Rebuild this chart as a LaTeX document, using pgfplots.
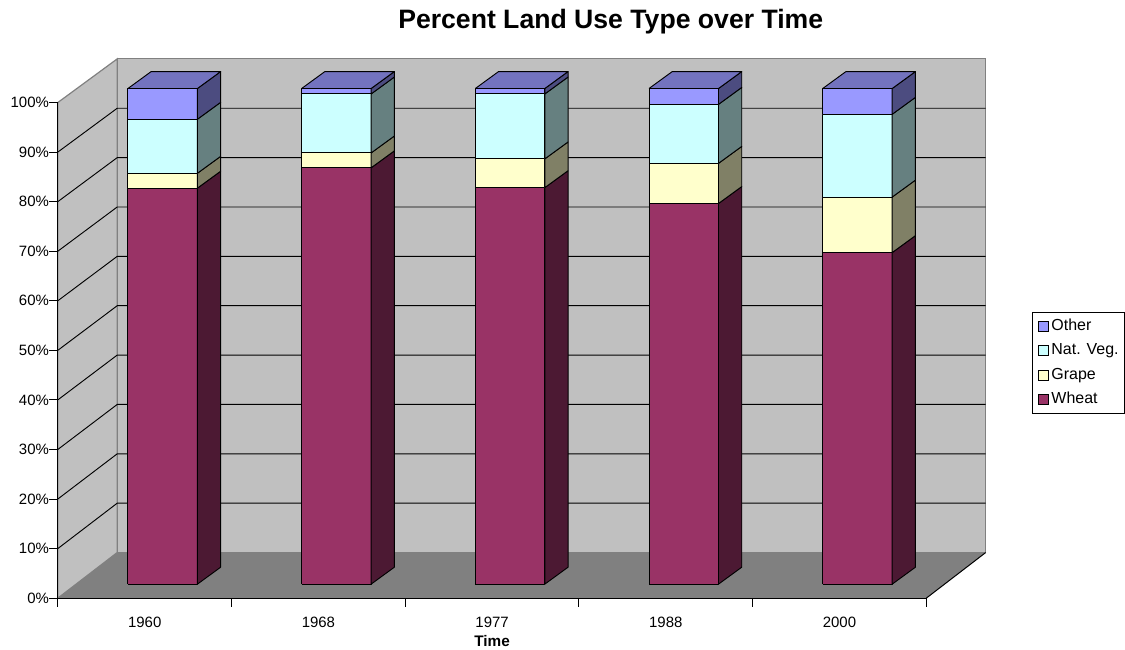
\documentclass[border=0pt]{standalone}
\usepackage{fontspec}
\setmainfont{Liberation Sans}
\usepackage{pgfplots}
\pgfplotsset{compat=1.18}

% series colours: front face / side face (and top of the highest block)
\definecolor{wheatF}{HTML}{993366}
\definecolor{wheatS}{HTML}{4C1933}
\definecolor{grapeF}{HTML}{FFFFCC}
\definecolor{grapeS}{HTML}{808066}
\definecolor{vegF}{HTML}{CCFFFF}
\definecolor{vegS}{HTML}{668080}
\definecolor{otherF}{HTML}{9999FF}
\definecolor{otherS}{HTML}{4C4C80}
\definecolor{otherT}{HTML}{7373BF}
\definecolor{wallC}{HTML}{C0C0C0}
\definecolor{floorC}{HTML}{808080}
\definecolor{edgeC}{HTML}{808080}

\pgfplotsset{
  face/.style={draw=black, line width=0.7pt, line join=round, forget plot},
  gridln/.style={draw=black, line width=0.7pt, forget plot},
}

% one block of a 3-D column: #1 category centre, #2 bottom, #3 top,
% #4 front colour, #5 side colour
\newcommand\seg[5]{%
  \pgfmathsetmacro\xl{#1-0.2+0.1034}%
  \pgfmathsetmacro\xr{#1+0.2+0.1034}%
  \pgfmathsetmacro\xs{#1+0.2+0.2373}%
  \pgfmathsetmacro\ylo{#2+2.82}%
  \pgfmathsetmacro\yhi{#3+2.82}%
  \pgfmathsetmacro\ylob{#2+6.24}%
  \pgfmathsetmacro\yhib{#3+6.24}%
  \addplot[face, fill=#4] coordinates {(\xl,\ylo) (\xr,\ylo) (\xr,\yhi) (\xl,\yhi) (\xl,\ylo)};
  \addplot[face, fill=#5] coordinates {(\xr,\ylo) (\xs,\ylob) (\xs,\yhib) (\xr,\yhi) (\xr,\ylo)};
}
% lid of a column: #1 centre, #2 height
\newcommand\lid[2]{%
  \pgfmathsetmacro\xl{#1-0.2+0.1034}%
  \pgfmathsetmacro\xr{#1+0.2+0.1034}%
  \pgfmathsetmacro\xlb{#1-0.2+0.2373}%
  \pgfmathsetmacro\xs{#1+0.2+0.2373}%
  \pgfmathsetmacro\yhi{#2+2.82}%
  \pgfmathsetmacro\yhib{#2+6.24}%
  \addplot[face, fill=otherT] coordinates {(\xl,\yhi) (\xr,\yhi) (\xs,\yhib) (\xlb,\yhib) (\xl,\yhi)};
}
% full stacked column: #1 centre, #2 Wheat, #3 Grape, #4 Nat. Veg., #5 Other (percent)
\newcommand\landbar[5]{%
  \pgfmathsetmacro\cA{#2}%
  \pgfmathsetmacro\cB{#2+#3}%
  \pgfmathsetmacro\cC{#2+#3+#4}%
  \pgfmathsetmacro\cD{#2+#3+#4+#5}%
  \edef\doseg{\noexpand\seg{#1}{0}{\cA}{wheatF}{wheatS}%
    \noexpand\seg{#1}{\cA}{\cB}{grapeF}{grapeS}%
    \noexpand\seg{#1}{\cB}{\cC}{vegF}{vegS}%
    \noexpand\seg{#1}{\cC}{\cD}{otherF}{otherS}%
    \noexpand\lid{#1}{\cD}}%
  \doseg
}

\begin{document}
\begin{tikzpicture}
\begin{axis}[
  scale only axis, width=652.7pt, height=372.5pt,
  xmin=0, xmax=5, ymin=0, ymax=100,
  clip=false, axis on top,
  axis x line*=bottom, axis y line*=left,
  axis line style={black, line width=0.75pt},
  tick align=outside, major tick length=6.5pt,
  tick style={black, line width=0.75pt},
  xtick={0,1,2,3,4,5}, xticklabels={},
  extra x ticks={0.5,1.5,2.5,3.5,4.5},
  extra x tick labels={1960,1968,1977,1988,2000},
  extra x tick style={major tick length=0pt,
    xticklabel style={anchor=base, inner sep=0pt, yshift=-22pt}},
  ytick={0,10,20,30,40,50,60,70,80,90,100},
  yticklabels={0\%,10\%,20\%,30\%,40\%,50\%,60\%,70\%,80\%,90\%,100\%},
  yticklabel style={anchor=east, inner sep=0pt},
  ticklabel style={font=\fontsize{11.25}{13}\selectfont},
  xlabel={Time},
  xlabel style={at={(axis description cs:0.5,-0.098)}, anchor=base,
    inner sep=0pt, font=\bfseries\fontsize{11.5}{13}\selectfont},
  legend style={at={(axis description cs:1.1214,0.578)}, anchor=north west,
    draw=black, line width=0.6pt, fill=white,
    font=\fontsize{12}{14}\selectfont,
    inner xsep=4.5pt, inner ysep=5pt, row sep=7.6pt,
    nodes={inner sep=0pt, text height=8.6pt, text depth=2.2pt},
    /tikz/every odd column/.append style={column sep=2pt}},
  legend cell align=left,
  legend image code/.code={\draw[#1, line width=0.5pt] (0pt,-3.75pt) rectangle (7.5pt,3.75pt);},
]
% picture extent
\path (axis cs:-0.3332,-10.41) rectangle (axis cs:6.130,120.68);

% walls and floor
\addplot[fill=wallC, draw=edgeC, line width=0.9pt, forget plot]
  coordinates {(0.3418,9.2) (5.3418,9.2) (5.3418,108.8) (0.3418,108.8) (0.3418,9.2)};
\addplot[fill=wallC, draw=edgeC, line width=0.9pt, forget plot]
  coordinates {(0,0) (0.3418,9.2) (0.3418,108.8) (0,100) (0,0)};
\addplot[fill=floorC, draw=none, forget plot]
  coordinates {(0,0) (5,0) (5.3418,9.2) (0.3418,9.2) (0,0)};
\addplot[draw=edgeC, line width=0.9pt, forget plot] coordinates {(0.3418,9.2) (5.3418,9.2)};
\addplot[draw=black, line width=0.75pt, forget plot] coordinates {(5,0) (5.3418,9.2)};

% gridlines on side and back walls
\addplot[gridln] coordinates {(0,10) (0.3418,19.16) (5.3418,19.16)};
\addplot[gridln] coordinates {(0,20) (0.3418,29.12) (5.3418,29.12)};
\addplot[gridln] coordinates {(0,30) (0.3418,39.08) (5.3418,39.08)};
\addplot[gridln] coordinates {(0,40) (0.3418,49.04) (5.3418,49.04)};
\addplot[gridln] coordinates {(0,50) (0.3418,59.00) (5.3418,59.00)};
\addplot[gridln] coordinates {(0,60) (0.3418,68.96) (5.3418,68.96)};
\addplot[gridln] coordinates {(0,70) (0.3418,78.92) (5.3418,78.92)};
\addplot[gridln] coordinates {(0,80) (0.3418,88.88) (5.3418,88.88)};
\addplot[gridln] coordinates {(0,90) (0.3418,98.84) (5.3418,98.84)};

% land use shares (percent): Wheat, Grape, Nat. Veg., Other
\landbar{0.5}{79.9}{3.0}{10.9}{6.2}   % 1960
\landbar{1.5}{84.0}{3.0}{11.9}{1.1}   % 1968
\landbar{2.5}{80.0}{5.8}{13.1}{1.1}   % 1977
\landbar{3.5}{76.8}{8.1}{11.9}{3.2}   % 1988
\landbar{4.5}{66.9}{11.2}{16.7}{5.2}  % 2000

\addlegendimage{fill=otherF, draw=black}\addlegendentry{Other}
\addlegendimage{fill=vegF, draw=black}\addlegendentry{Nat. Veg.}
\addlegendimage{fill=grapeF, draw=black}\addlegendentry{Grape}
\addlegendimage{fill=wheatF, draw=black}\addlegendentry{Wheat}

\node[anchor=base, font=\bfseries\fontsize{20}{24}\selectfont]
  at (axis cs:3.183,114.98) {Percent Land Use Type over Time};
\end{axis}
\end{tikzpicture}
\end{document}
